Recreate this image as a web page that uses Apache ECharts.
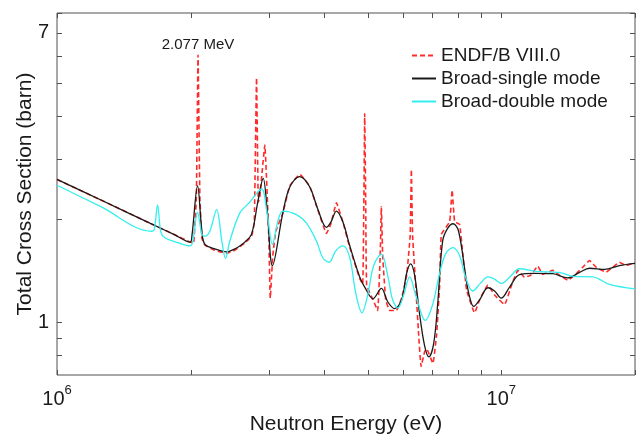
<!DOCTYPE html>
<html>
<head>
<meta charset="utf-8">
<script src="https://cdn.jsdelivr.net/npm/echarts@6/dist/echarts.min.js"></script>
<style>
html,body{margin:0;padding:0;background:#fff;}
#chart{width:637px;height:440px;}
</style>
</head>
<body>
<div id="chart"></div>
<script>
// ---------- data (energy in eV, total cross section in barn) ----------
const seriesNames = ['ENDF/B VIII.0', 'Broad-single mode', 'Broad-double mode'];

const endfData = [
  [1.000e6, 2.61], [1.249e6, 2.28], [1.618e6, 1.945], [1.842e6, 1.798], [1.994e6, 1.712],
  [2.029e6, 1.701], [2.059e6, 2.32], [2.077e6, 6.03],
  [2.097e6, 2.32], [2.119e6, 1.759], [2.151e6, 1.679], [2.267e6, 1.62], [2.407e6, 1.59],
  [2.513e6, 1.62], [2.647e6, 1.701], [2.741e6, 1.782], [2.780e6, 1.95], [2.813e6, 5.17],
  [2.839e6, 2.24], [2.861e6, 2.32], [2.936e6, 3.29], [2.997e6, 1.782], [3.020e6, 1.174],
  [3.060e6, 1.562], [3.108e6, 1.842], [3.223e6, 2.08], [3.342e6, 2.50], [3.519e6, 2.70],
  [3.706e6, 2.49], [3.863e6, 2.13], [4.042e6, 1.814], [4.132e6, 1.93], [4.256e6, 2.23],
  [4.397e6, 1.967], [4.561e6, 1.650], [4.801e6, 1.34], [4.877e6, 1.290], [4.907e6, 2.32],
  [4.927e6, 4.06], [4.952e6, 2.32], [4.978e6, 1.282], [5.144e6, 1.161], [5.270e6, 1.080],
  [5.339e6, 1.562], [5.372e6, 2.17], [5.409e6, 1.562], [5.494e6, 1.161], [5.609e6, 1.080],
  [5.807e6, 1.080], [5.967e6, 1.176], [6.124e6, 1.369], [6.236e6, 1.782], [6.275e6, 2.79],
  [6.317e6, 1.782], [6.416e6, 1.282], [6.516e6, 0.922], [6.600e6, 0.741], [6.722e6, 0.819],
  [6.792e6, 0.835], [7.017e6, 0.757], [7.154e6, 0.922], [7.266e6, 1.282], [7.330e6, 1.802],
  [7.653e6, 1.967], [7.752e6, 2.43], [7.853e6, 1.967], [8.059e6, 1.929], [8.200e6, 1.562],
  [8.356e6, 1.240], [8.709e6, 1.064], [8.938e6, 1.161], [9.330e6, 1.282], [9.658e6, 1.200],
  [1.017e7, 1.124], [1.055e7, 1.282], [1.090e7, 1.415], [1.128e7, 1.351], [1.164e7, 1.369],
  [1.209e7, 1.456], [1.239e7, 1.378], [1.306e7, 1.415], [1.353e7, 1.369], [1.412e7, 1.325],
  [1.462e7, 1.369], [1.523e7, 1.443], [1.580e7, 1.511], [1.638e7, 1.443], [1.722e7, 1.399],
  [1.780e7, 1.443], [1.845e7, 1.495], [1.913e7, 1.462], [2.000e7, 1.488]
];

const singleData = [
  [1.000e6, 2.61], [1.249e6, 2.28], [1.618e6, 1.945], [1.842e6, 1.798], [1.994e6, 1.712],
  [2.012e6, 1.782], [2.072e6, 2.50], [2.119e6, 1.842],
  [2.151e6, 1.690], [2.267e6, 1.636], [2.407e6, 1.604], [2.513e6, 1.636], [2.579e6, 1.668],
  [2.647e6, 1.712], [2.741e6, 1.806], [2.831e6, 2.24], [2.911e6, 2.63], [2.974e6, 2.10],
  [3.055e6, 1.462], [3.223e6, 2.08], [3.342e6, 2.48], [3.519e6, 2.66], [3.706e6, 2.48],
  [3.863e6, 2.14], [4.042e6, 1.891], [4.132e6, 1.954], [4.256e6, 2.11], [4.397e6, 1.967],
  [4.561e6, 1.668], [4.801e6, 1.354], [4.927e6, 1.265], [5.144e6, 1.169], [5.372e6, 1.254],
  [5.551e6, 1.146], [5.755e6, 1.094], [5.967e6, 1.161], [6.124e6, 1.388], [6.252e6, 1.479],
  [6.383e6, 1.369], [6.551e6, 1.052], [6.722e6, 0.852], [6.873e6, 0.791], [7.043e6, 0.863],
  [7.191e6, 1.124], [7.379e6, 1.724], [7.572e6, 1.878], [7.792e6, 1.937], [8.017e6, 1.842],
  [8.343e6, 1.325], [8.487e6, 1.184], [8.665e6, 1.111], [8.938e6, 1.161], [9.330e6, 1.259],
  [9.658e6, 1.232], [1.000e7, 1.174], [1.044e7, 1.265], [1.099e7, 1.375], [1.188e7, 1.388],
  [1.305e7, 1.384], [1.410e7, 1.345], [1.500e7, 1.396], [1.580e7, 1.436], [1.707e7, 1.424],
  [1.845e7, 1.462], [2.000e7, 1.484]
];

const doubleData = [
  [1.000e6, 2.51], [1.249e6, 2.18], [1.635e6, 1.842], [1.656e6, 1.865], [1.684e6, 2.20], [1.713e6, 1.83],
  [1.749e6, 1.762], [1.842e6, 1.718], [1.994e6, 1.668], [2.022e6, 1.724], [2.072e6, 2.09], [2.119e6, 1.806],
  [2.151e6, 1.782], [2.208e6, 1.842], [2.287e6, 2.13], [2.350e6, 1.724], [2.395e6, 1.535],
  [2.449e6, 1.724], [2.579e6, 2.08], [2.716e6, 2.24], [2.886e6, 2.45], [2.967e6, 2.10],
  [3.055e6, 1.687], [3.141e6, 1.967], [3.225e6, 2.11], [3.459e6, 2.06], [3.643e6, 1.945],
  [3.837e6, 1.724], [3.965e6, 1.541], [4.097e6, 1.495], [4.241e6, 1.614], [4.405e6, 1.668],
  [4.561e6, 1.541], [4.703e6, 1.216], [4.859e6, 1.064], [5.005e6, 1.200], [5.162e6, 1.462],
  [5.372e6, 1.579], [5.551e6, 1.369], [5.695e6, 1.161], [5.854e6, 1.099], [6.030e6, 1.200],
  [6.220e6, 1.354], [6.416e6, 1.200], [6.745e6, 1.011], [7.006e6, 1.124], [7.266e6, 1.388],
  [7.495e6, 1.582], [7.787e6, 1.650], [8.059e6, 1.562], [8.312e6, 1.351], [8.626e6, 1.232],
  [8.983e6, 1.299], [9.330e6, 1.354], [9.658e6, 1.334], [1.000e7, 1.296], [1.044e7, 1.351],
  [1.099e7, 1.431], [1.199e7, 1.406], [1.353e7, 1.394], [1.449e7, 1.360], [1.607e7, 1.354],
  [1.752e7, 1.288], [2.000e7, 1.249]
];

const xRange = [1e6, 2e7];
const yRange = [0.7, 8];
const xTickValues = [1e6, 2e6, 3e6, 4e6, 5e6, 6e6, 7e6, 8e6, 9e6, 1e7, 2e7];
const yTickValues = [0.8, 0.9, 1, 2, 3, 4, 5, 6, 7, 8];
const xTickLabels = [1e6, 1e7];
const yTickLabels = [1, 7];
const annotation = { energy: 2.077e6, sigma: 6.45, text: '2.077 MeV' };

// ---------- styling ----------
const FONT = "'Liberation Sans', Arial, Helvetica, sans-serif";
const AXIS_COLOR = '#505050';
const TEXT_COLOR = '#1a1a1a';
const TICK_LEN = 5;

function tickItems() {
  const d = [];
  xTickValues.forEach(v => d.push([v, yRange[0], 0]));
  yTickValues.forEach(v => d.push([xRange[0], v, 1]));
  xTickLabels.forEach(v => d.push([v, yRange[0], 2]));
  yTickLabels.forEach(v => d.push([xRange[0], v, 3]));
  return d;
}

function renderTick(params, api) {
  const cs = params.coordSys;
  const kind = api.value(2);
  const p = api.coord([api.value(0), api.value(1)]);
  const top = cs.y, bottom = cs.y + cs.height, left = cs.x, right = cs.x + cs.width;
  const st = { stroke: AXIS_COLOR, lineWidth: 1 };
  if (kind === 0) {
    const x = Math.round(p[0]) + 0.5;
    return { type: 'group', children: [
      { type: 'line', shape: { x1: x, y1: bottom, x2: x, y2: bottom - TICK_LEN }, style: st },
      { type: 'line', shape: { x1: x, y1: top, x2: x, y2: top + TICK_LEN }, style: st }
    ] };
  }
  if (kind === 1) {
    const y = Math.round(p[1]) + 0.5;
    return { type: 'group', children: [
      { type: 'line', shape: { x1: left, y1: y, x2: left + TICK_LEN, y2: y }, style: st },
      { type: 'line', shape: { x1: right, y1: y, x2: right - TICK_LEN, y2: y }, style: st }
    ] };
  }
  if (kind === 2) {
    const e = Math.round(Math.log10(api.value(0)));
    return { type: 'text', x: p[0], y: bottom + 9, style: {
      text: '{b|10}{s|' + e + '}', align: 'center', verticalAlign: 'top',
      rich: {
        b: { fontSize: 20, fontFamily: FONT, fill: TEXT_COLOR, padding: [5, 0, 0, 0], verticalAlign: 'bottom' },
        s: { fontSize: 13, fontFamily: FONT, fill: TEXT_COLOR, verticalAlign: 'top' }
      }
    } };
  }
  return { type: 'text', x: left - 8, y: p[1], style: {
    text: String(api.value(1)), align: 'right', verticalAlign: 'middle',
    fontSize: 20, fontFamily: FONT, fill: TEXT_COLOR
  } };
}

const chart = echarts.init(document.getElementById('chart'), null, { renderer: 'canvas' });
chart.setOption({
  animation: false,
  backgroundColor: '#ffffff',
  grid: { left: 57, right: 2, top: 13, bottom: 59, show: true, borderColor: AXIS_COLOR, borderWidth: 1, backgroundColor: 'transparent' },
  legend: {
    data: seriesNames, orient: 'vertical', left: 411, top: 46,
    itemWidth: 24, itemHeight: 12, itemGap: 4, padding: 0,
    itemStyle: { opacity: 0 },
    textStyle: { fontSize: 19, fontFamily: FONT, color: TEXT_COLOR }
  },
  xAxis: {
    type: 'log', logBase: 10, min: xRange[0], max: xRange[1],
    name: 'Neutron Energy (eV)', nameLocation: 'middle', nameGap: 39,
    nameTextStyle: { fontSize: 21, fontFamily: FONT, color: TEXT_COLOR },
    axisLine: { show: false }, axisTick: { show: false }, axisLabel: { show: false }, splitLine: { show: false }
  },
  yAxis: {
    type: 'log', logBase: 10, min: yRange[0], max: yRange[1],
    name: 'Total Cross Section (barn)', nameLocation: 'middle', nameGap: 21,
    nameTextStyle: { fontSize: 21, fontFamily: FONT, color: TEXT_COLOR },
    axisLine: { show: false }, axisTick: { show: false }, axisLabel: { show: false }, splitLine: { show: false }
  },
  series: [
    {
      name: seriesNames[0], type: 'line', data: endfData, symbol: 'none', smooth: 0.1, z: 2,
      lineStyle: { color: '#ff2b2b', width: 1.6, type: [5, 3] }, itemStyle: { color: '#ff2b2b' },
      markPoint: {
        silent: true, symbol: 'circle', symbolSize: 1, itemStyle: { color: 'rgba(0,0,0,0)' },
        label: { show: true, position: 'inside', formatter: annotation.text, fontSize: 15, fontFamily: FONT, color: TEXT_COLOR },
        data: [{ coord: [annotation.energy, annotation.sigma] }]
      }
    },
    {
      name: seriesNames[1], type: 'line', data: singleData, symbol: 'none', smooth: 0.35, z: 3,
      lineStyle: { color: '#1a1a1a', width: 1.3 }, itemStyle: { color: '#1a1a1a' }
    },
    {
      name: seriesNames[2], type: 'line', data: doubleData, symbol: 'none', smooth: 0.35, z: 4,
      lineStyle: { color: '#33eeee', width: 1.3 }, itemStyle: { color: '#33eeee' }
    },
    {
      type: 'custom', data: tickItems(), renderItem: renderTick, silent: true, clip: false, z: 10,
      encode: { x: 0, y: 1 }
    }
  ]
});
</script>
</body>
</html>
